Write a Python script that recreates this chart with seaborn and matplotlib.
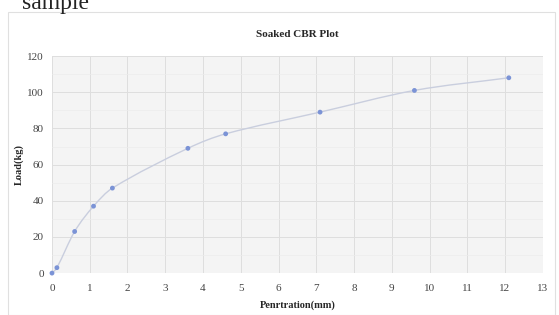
import numpy as np
import pandas as pd
import matplotlib.pyplot as plt
import seaborn as sns
from matplotlib.path import Path
from matplotlib.patches import PathPatch, Rectangle

# readings
penetration = [0.0, 0.13, 0.6, 1.1, 1.6, 3.6, 4.6, 7.1, 9.6, 12.1]
load = [0, 3, 23, 37, 47, 69, 77, 89, 101, 108]
x_ticks = list(range(0, 14))
y_ticks = [0, 20, 40, 60, 80, 100, 120]

df = pd.DataFrame({"pen": penetration, "load": load})

sns.set_style("white")
plt.rcParams["font.family"] = ["Liberation Serif", "DejaVu Serif"]

fig = plt.figure(figsize=(5.59, 3.15), dpi=100)
ax = fig.add_axes([0.093, 0.133, 0.878, 0.689])
ax.set_facecolor("#f4f4f4")

# smoothed line like a spreadsheet chart (cubic bezier segments through the points)
x = np.array(penetration, dtype=float)
y = np.array(load, dtype=float)
n = len(x)
slopes = np.empty(n)
slopes[0] = (y[1] - y[0]) / (x[1] - x[0])
slopes[-1] = (y[-1] - y[-2]) / (x[-1] - x[-2])
for i in range(1, n - 1):
    slopes[i] = (y[i + 1] - y[i - 1]) / (x[i + 1] - x[i - 1])
verts = [(x[0], y[0])]
codes = [Path.MOVETO]
for i in range(n - 1):
    dx = x[i + 1] - x[i]
    verts += [(x[i] + dx / 3, y[i] + slopes[i] * dx / 3),
              (x[i + 1] - dx / 3, y[i + 1] - slopes[i + 1] * dx / 3),
              (x[i + 1], y[i + 1])]
    codes += [Path.CURVE4] * 3
ax.add_patch(PathPatch(Path(verts, codes), facecolor="none",
                       edgecolor="#c9cede", lw=1.0, zorder=2))

sns.scatterplot(data=df, x="pen", y="load", ax=ax, color="#7b93d6",
                s=12, edgecolor="none", zorder=3, clip_on=False)

ax.set_xlim(0, 13)
ax.set_ylim(0, 120)
ax.set_xticks(x_ticks)
ax.set_yticks(y_ticks)
ax.set_yticks(np.arange(0, 121, 10), minor=True)
ax.grid(True, which="major", color="#dedede", lw=0.7)
ax.grid(True, which="minor", axis="y", color="#ececec", lw=0.5)
for s in ax.spines.values():
    s.set_visible(False)
ax.tick_params(labelsize=8, colors="#444444", length=0)
ax.tick_params(axis="x", pad=8)
ax.tick_params(axis="y", pad=6)

ax.set_xlabel("Penrtration(mm)", fontsize=7.5, fontweight="bold", labelpad=5)
ax.set_ylabel("Load(kg)", fontsize=7.5, fontweight="bold", labelpad=2)
ax.set_title("Soaked CBR Plot", fontsize=8, fontweight="bold", pad=14)

# chart frame and the cut-off caption above it
fig.patches.append(Rectangle((8 / 559, 0), 547 / 559, 1 - 12 / 315,
                             transform=fig.transFigure, fill=False,
                             edgecolor="#e0e0e0", lw=0.8))
fig.text(22 / 559, 1 - 9 / 315, "sample", fontsize=17, va="baseline",
         color="#222222")

fig.savefig("out.png", dpi=100)
